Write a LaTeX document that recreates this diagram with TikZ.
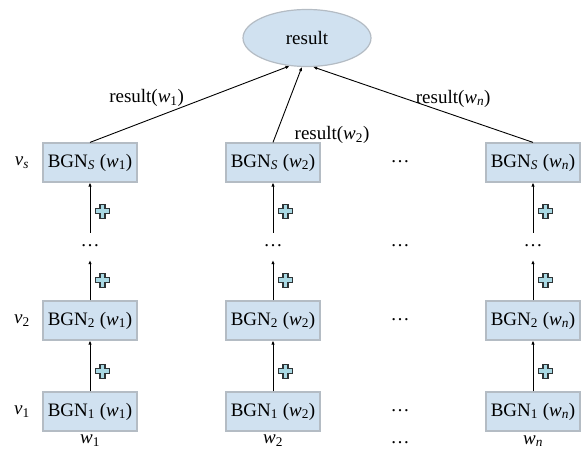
\documentclass[tikz,border=0pt]{standalone}
\usepackage{fontspec}
\setmainfont{Liberation Serif}
\usetikzlibrary{shapes, arrows.meta}

\definecolor{boxfill}{HTML}{D0E1F0}
\definecolor{boxline}{HTML}{B4BCC4}
\definecolor{plusfill}{HTML}{A9D9E4}
\definecolor{plusline}{HTML}{2E3436}

\begin{document}
\begin{tikzpicture}
	  [node distance = 91pt, font=\fontsize{19pt}{22pt}\selectfont,
	  %
	  block/.style={rectangle, draw=boxline, fill=boxfill, line width=1.2pt, minimum width=94pt, minimum height=39pt, inner sep=1pt},
	  %
	  resultblock/.style={ellipse, draw=boxline, fill=boxfill, line width=1.2pt, minimum width=128pt, minimum height=57pt},
	  %
	  dotsnode/.style={inner sep=0pt, minimum height=27pt, text height=0.2ex, text depth=0pt},
	  %
	  plussign/.style={minimum width=17pt, minimum height=17pt, inner sep=0pt,
	    path picture={\filldraw[shift={(path picture bounding box.center)}, fill=plusfill, draw=plusline, line width=1.1pt]
	      (-2.5pt,-7pt) -- (2.5pt,-7pt) -- (2.5pt,-2.5pt) -- (7pt,-2.5pt) -- (7pt,2.5pt) -- (2.5pt,2.5pt) -- (2.5pt,7pt)
	      -- (-2.5pt,7pt) -- (-2.5pt,2.5pt) -- (-7pt,2.5pt) -- (-7pt,-2.5pt) -- (-2.5pt,-2.5pt) -- cycle;}},
	  %
	  customline/.style={draw=black, line width=0.9pt, arrows={-Latex[length=4pt, width=3.5pt]}}]

	    \useasboundingbox (0pt,0pt) rectangle (587pt,450pt);

	    \node [resultblock] (result) at (307pt,412pt) {result};

	    % first column
	    \node [block] (bgn1w1) at (90pt,38.5pt) {BGN\textsubscript{1} (\textit{w}\textsubscript{1})};
	    \node [block, above of=bgn1w1] (bgn2w1) {BGN\textsubscript{2} (\textit{w}\textsubscript{1})};
	    \node [dotsnode, above of=bgn2w1, yshift=-17pt] (dotsw1) {\ldots};
	    \node [block, above of=dotsw1, yshift=-7pt] (bgnsw1) {BGN\textsubscript{\textit{S}} (\textit{w}\textsubscript{1})};
	    \node [below of=bgn1w1, yshift=61.5pt] (labw1) {\textit{w}\textsubscript{1}};

	    \node [left of=bgn1w1, xshift=23pt] (v1) {\textit{v}\textsubscript{1}};
	    \node [left of=bgn2w1, xshift=23pt] (v2) {\textit{v}\textsubscript{2}};
	    \node [left of=bgnsw1, xshift=23pt] (vs) {\textit{v}\textsubscript{\textit{s}}};

	    % second column
	    \node [block, right of=bgn1w1, xshift=92pt] (bgn1w2) {BGN\textsubscript{1} (\textit{w}\textsubscript{2})};
	    \node [block, right of=bgn2w1, xshift=92pt] (bgn2w2) {BGN\textsubscript{2} (\textit{w}\textsubscript{2})};
	    \node [dotsnode, right of=dotsw1, xshift=92pt] (dotsw2) {\ldots};
	    \node [block, right of=bgnsw1, xshift=92pt] (bgnsw2) {BGN\textsubscript{\textit{S}} (\textit{w}\textsubscript{2})};
	    \node [right of=labw1, xshift=92pt] (labw2) {\textit{w}\textsubscript{2}};

	    % skipped columns
	    \node [dotsnode, right of=bgn1w2, xshift=36pt] (dotsc1) {\ldots};
	    \node [dotsnode, right of=bgn2w2, xshift=36pt] (dotsc2) {\ldots};
	    \node [dotsnode, right of=dotsw2, xshift=36pt] (dotsc3) {\ldots};
	    \node [dotsnode, right of=bgnsw2, xshift=36pt] (dotsc4) {\ldots};
	    \node [dotsnode, right of=bgn1w2, xshift=36pt, yshift=-31.5pt] (dotsc0) {\ldots};

	    % last column
	    \node [block, right of=dotsc1, xshift=42pt] (bgn1wn) {BGN\textsubscript{1} (\textit{w}\textsubscript{\textit{n}})};
	    \node [block, right of=dotsc2, xshift=42pt] (bgn2wn) {BGN\textsubscript{2} (\textit{w}\textsubscript{\textit{n}})};
	    \node [dotsnode, right of=dotsc3, xshift=42pt] (dotswn) {\ldots};
	    \node [block, right of=dotsc4, xshift=42pt] (bgnswn) {BGN\textsubscript{\textit{S}} (\textit{w}\textsubscript{\textit{n}})};
	    \node [right of=labw2, xshift=169pt] (labwn) {\textit{w}\textsubscript{\textit{n}}};

	    \draw [customline] (bgn1w1) -- node[plussign, pos=0.4, right, xshift=3.5pt] {} (bgn2w1);
	    \draw [customline] (bgn2w1) -- node[plussign, pos=0.5, right, xshift=3.5pt] {} (dotsw1);
	    \draw [customline] (dotsw1) -- node[plussign, pos=0.43, right, xshift=3.5pt] {} (bgnsw1);
	    \draw [customline] (bgn1w2) -- node[plussign, pos=0.4, right, xshift=3.5pt] {} (bgn2w2);
	    \draw [customline] (bgn2w2) -- node[plussign, pos=0.5, right, xshift=3.5pt] {} (dotsw2);
	    \draw [customline] (dotsw2) -- node[plussign, pos=0.43, right, xshift=3.5pt] {} (bgnsw2);
	    \draw [customline] (bgn1wn) -- node[plussign, pos=0.4, right, xshift=3.5pt] {} (bgn2wn);
	    \draw [customline] (bgn2wn) -- node[plussign, pos=0.5, right, xshift=3.5pt] {} (dotswn);
	    \draw [customline] (dotswn) -- node[plussign, pos=0.43, right, xshift=3.5pt] {} (bgnswn);

	    \draw [customline] (bgnsw1.north) -- node[pos=0.5, anchor=east, xshift=-2pt, yshift=6pt] {result(\textit{w}\textsubscript{1})} (result.238);
	    \draw [customline] (bgnsw2.north) -- node[pos=0.1, anchor=west, xshift=15pt] {result(\textit{w}\textsubscript{2})} (result.260);
	    \draw [customline] (bgnswn.north) -- node[pos=0.5, anchor=west, xshift=-11pt, yshift=6pt] {result(\textit{w}\textsubscript{\textit{n}})} (result.282);
	  \end{tikzpicture}
\end{document}
